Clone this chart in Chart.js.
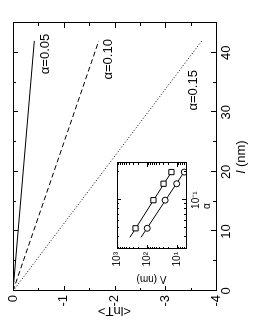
<!DOCTYPE html>
<html>
<head>
<meta charset="utf-8">
<script src="https://cdn.jsdelivr.net/npm/chart.js@4.4.1/dist/chart.umd.min.js"></script>
<style>
  html, body { margin: 0; padding: 0; background: #fff; }
  body { width: 255px; height: 330px; overflow: hidden; position: relative; }
  /* the figure is drawn upright and then turned a quarter turn left */
  #turn { position: absolute; left: 0; top: 330px; width: 330px; height: 255px;
          transform-origin: 0 0; transform: rotate(-90deg); }
  #main { position: absolute; left: 0; top: 0; }
  #inset { position: absolute; left: 30px; top: 105px; }
</style>
</head>
<body>
<div id="turn">
  <canvas id="main" width="330" height="255"></canvas>
  <canvas id="inset" width="150" height="110"></canvas>
</div>
<script>
// main panel: <lnT> against l
var lengthNm = [0, 42];
var lnT005 = [0, -0.42];
var lnT010 = [0, -1.69];
var lnT015 = [0, -3.72];
var curveNames = ['\u03b1=0.05', '\u03b1=0.10', '\u03b1=0.15'];
var nameAt = [[39.8, -0.64], [38.9, -1.88], [33.7, -3.55]];
var lMajor = [0, 10, 20, 30, 40];
var lMinor = [5, 15, 25, 35];
var tMajor = [0, -1, -2, -3, -4];
var tMinor = [-0.5, -1.5, -2.5, -3.5];

// inset: Lambda against alpha (log-log)
var alphaVals = [0.05, 0.10, 0.15, 0.20];
var lambdaSquares = [241, 61, 28, 15.3];
var lambdaCircles = [98, 24.8, 10.2, 5.7];
var fitAlpha = [0.04, 0.2];
var fitSquares = [370, 15.3];
var fitCircles = [158, 5.8];
var aMajor = [0.1];
var aMinor = [0.03, 0.04, 0.05, 0.06, 0.07, 0.08, 0.09, 0.2];
var lamMajor = [10, 100, 1000];
var lamMinor = [5, 6, 7, 8, 9, 20, 30, 40, 50, 60, 70, 80, 90, 200, 300, 400, 500, 600, 700, 800, 900];

var FONT = "'Liberation Sans', Arial, Helvetica, sans-serif";
Chart.defaults.font.family = FONT;
Chart.defaults.color = '#000';

function pts(xs, ys) {
    return xs.map(function (v, i) { return {x: v, y: ys[i]}; });
}

// frame with inward ticks on all four sides
var frame = {
    id: 'frame',
    beforeDatasetsDraw: function (chart, args, o) {
        var a = chart.chartArea;
        chart.ctx.save();
        chart.ctx.fillStyle = '#fff';
        chart.ctx.fillRect(a.left, a.top, a.right - a.left, a.bottom - a.top);
        chart.ctx.restore();
    },
    afterDraw: function (chart, args, o) {
        var ctx = chart.ctx, a = chart.chartArea, sx = chart.scales.x, sy = chart.scales.y;
        ctx.save();
        ctx.strokeStyle = '#000';
        ctx.lineWidth = 1;
        ctx.beginPath();
        function xm(vals, len) {
            vals.forEach(function (v) {
                var p = Math.round(sx.getPixelForValue(v)) + 0.5;
                ctx.moveTo(p, a.bottom); ctx.lineTo(p, a.bottom - len);
                ctx.moveTo(p, a.top); ctx.lineTo(p, a.top + len);
            });
        }
        function ym(vals, len) {
            vals.forEach(function (v) {
                var p = Math.round(sy.getPixelForValue(v)) + 0.5;
                ctx.moveTo(a.left, p); ctx.lineTo(a.left + len, p);
                ctx.moveTo(a.right, p); ctx.lineTo(a.right - len, p);
            });
        }
        xm(o.xMajor, o.major); xm(o.xMinor, o.minor);
        ym(o.yMajor, o.major); ym(o.yMinor, o.minor);
        ctx.stroke();
        ctx.strokeRect(Math.round(a.left) + 0.5, Math.round(a.top) + 0.5,
            Math.round(a.right - a.left), Math.round(a.bottom - a.top));
        ctx.restore();
    }
};

// curve names and the x title with an italic l
var notes = {
    id: 'notes',
    afterDraw: function (chart) {
        var ctx = chart.ctx, sx = chart.scales.x, sy = chart.scales.y, a = chart.chartArea;
        ctx.save();
        ctx.fillStyle = '#000';
        ctx.textAlign = 'center';
        ctx.textBaseline = 'middle';
        ctx.font = '13px ' + FONT;
        curveNames.forEach(function (t, i) {
            ctx.fillText(t, sx.getPixelForValue(nameAt[i][0]), sy.getPixelForValue(nameAt[i][1]));
        });
        ctx.textAlign = 'left';
        ctx.font = 'italic 13px ' + FONT;
        var w1 = ctx.measureText('l').width;
        ctx.font = '13px ' + FONT;
        var w2 = ctx.measureText(' (nm)').width;
        var x0 = (a.left + a.right) / 2 - (w1 + w2) / 2;
        ctx.font = 'italic 13px ' + FONT;
        ctx.fillText('l', x0, 241);
        ctx.font = '13px ' + FONT;
        ctx.fillText(' (nm)', x0 + w1, 241);
        ctx.restore();
    }
};

new Chart(document.getElementById('main'), {
    type: 'scatter',
    data: {
        datasets: [{
            data: pts(lengthNm, lnT005),
            showLine: true, borderColor: '#000', borderWidth: 1, pointRadius: 0
        }, {
            data: pts(lengthNm, lnT010),
            showLine: true, borderColor: '#000', borderWidth: 1, pointRadius: 0,
            borderDash: [5, 3]
        }, {
            data: pts(lengthNm, lnT015),
            showLine: true, borderColor: '#000', borderWidth: 1, pointRadius: 0,
            borderDash: [1, 2]
        }]
    },
    options: {
        responsive: false,
        animation: false,
        events: [],
        layout: {padding: {top: 13, right: 23, left: 0, bottom: 0}},
        plugins: {
            legend: {display: false},
            tooltip: {enabled: false},
            frame: {xMajor: lMajor, xMinor: lMinor, yMajor: tMajor, yMinor: tMinor, major: 5, minor: 3}
        },
        scales: {
            x: {
                type: 'linear', min: 0, max: 45,
                grid: {display: false, drawTicks: false}, border: {display: false},
                ticks: {font: {size: 13}, padding: 3, autoSkip: false, maxRotation: 0},
                afterBuildTicks: function (s) { s.ticks = lMajor.map(function (v) { return {value: v}; }); },
                afterFit: function (s) { s.height = 39; }
            },
            y: {
                type: 'linear', min: -4, max: 0,
                grid: {display: false, drawTicks: false}, border: {display: false},
                ticks: {font: {size: 13}, padding: 4, autoSkip: false},
                afterBuildTicks: function (s) { s.ticks = tMajor.map(function (v) { return {value: v}; }); },
                title: {display: true, text: '<lnT>', font: {size: 13}, padding: {top: 12, bottom: 0}},
                afterFit: function (s) { s.width = 39; }
            }
        }
    },
    plugins: [frame, notes]
});

var lamText = {10: '10\u00b9', 100: '10\u00b2', 1000: '10\u00b3'};

new Chart(document.getElementById('inset'), {
    type: 'scatter',
    data: {
        datasets: [{
            data: pts(alphaVals, lambdaSquares),
            pointStyle: 'rect', pointRadius: 3.7, borderWidth: 1,
            borderColor: '#000', backgroundColor: '#fff'
        }, {
            data: pts(alphaVals, lambdaCircles),
            pointStyle: 'circle', pointRadius: 3, borderWidth: 1,
            borderColor: '#000', backgroundColor: '#fff'
        }, {
            data: pts(fitAlpha, fitSquares),
            showLine: true, pointRadius: 0, borderColor: '#000', borderWidth: 1
        }, {
            data: pts(fitAlpha, fitCircles),
            showLine: true, pointRadius: 0, borderColor: '#000', borderWidth: 1
        }]
    },
    options: {
        responsive: false,
        animation: false,
        events: [],
        layout: {padding: {top: 12, right: 13, left: 0, bottom: 0}},
        plugins: {
            legend: {display: false},
            tooltip: {enabled: false},
            frame: {xMajor: aMajor, xMinor: aMinor, yMajor: lamMajor, yMinor: lamMinor, major: 4, minor: 2}
        },
        scales: {
            x: {
                type: 'logarithmic', min: 0.03, max: 0.25,
                grid: {display: false, drawTicks: false}, border: {display: false},
                ticks: {font: {size: 10}, padding: 4, autoSkip: false, maxRotation: 0,
                        callback: function () { return '10\u207b\u00b9'; }},
                afterBuildTicks: function (s) { s.ticks = aMajor.map(function (v) { return {value: v}; }); },
                title: {display: true, text: '\u03b1', font: {size: 10}, padding: {top: 0, bottom: 2}},
                afterFit: function (s) { s.height = 29; }
            },
            y: {
                type: 'logarithmic', min: 5, max: 1000,
                grid: {display: false, drawTicks: false}, border: {display: false},
                ticks: {font: {size: 10}, padding: 3, autoSkip: false,
                        callback: function (v) { return lamText[v] || ''; }},
                afterBuildTicks: function (s) { s.ticks = lamMajor.map(function (v) { return {value: v}; }); },
                title: {display: true, text: '\u039b (nm)', font: {size: 10}, padding: {top: 15, bottom: 0}},
                afterFit: function (s) { s.width = 51; }
            }
        }
    },
    plugins: [frame]
});
</script>
</body>
</html>
